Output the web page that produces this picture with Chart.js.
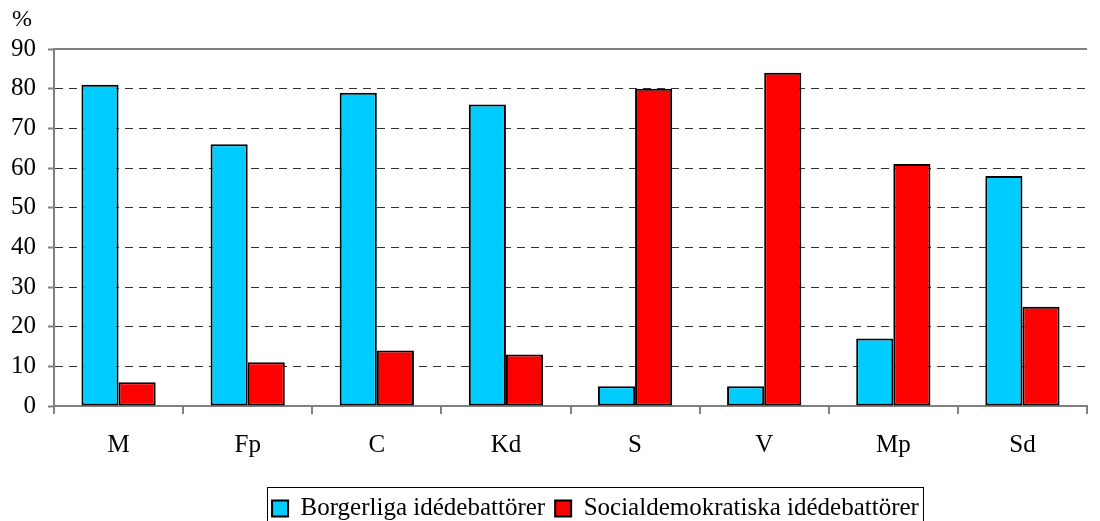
<!DOCTYPE html>
<html>
<head>
<meta charset="utf-8">
<script src="https://cdn.jsdelivr.net/npm/chart.js@4/dist/chart.umd.min.js"></script>
<style>
  html, body { margin: 0; padding: 0; background: #fff; overflow: hidden; }
  #wrap { position: relative; width: 1100px; height: 531px; }
</style>
</head>
<body>
<div id="wrap"><canvas id="myChart"></canvas></div>
<script>
var partier = ['M', 'Fp', 'C', 'Kd', 'S', 'V', 'Mp', 'Sd'];
var borgerliga = [81, 66, 79, 76, 5, 5, 17, 58];
var socialdem = [6, 11, 14, 13, 80, 84, 61, 25];
var yTicks = [0, 10, 20, 30, 40, 50, 60, 70, 80, 90];

var serif = '"Liberation Serif", "Times New Roman", serif';

// flytta legenden lite till höger, som i förlagan
var legendShift = {
    id: 'legendShift',
    afterLayout: function (chart) {
        chart.legend.left += 52;
        chart.legend.right += 52;
    }
};

// ram runt legenden, heldragen topplinje och procenttecken
var extras = {
    id: 'extras',
    afterDraw: function (chart) {
        var ctx = chart.ctx;
        var a = chart.chartArea;
        ctx.save();
        ctx.strokeStyle = '#808080';
        ctx.lineWidth = 2;
        ctx.beginPath();
        ctx.moveTo(a.left, a.top);
        ctx.lineTo(a.right, a.top);
        ctx.stroke();

        ctx.strokeStyle = '#000';
        ctx.lineWidth = 1;
        ctx.strokeRect(267.5, 487.5, 656, 60);

        ctx.fillStyle = '#000';
        ctx.font = '24px ' + serif;
        ctx.textAlign = 'left';
        ctx.textBaseline = 'middle';
        ctx.fillText('%', 12, 20);
        ctx.restore();
    }
};

new Chart(document.getElementById('myChart'), {
    type: 'bar',
    data: {
        labels: partier,
        datasets: [{
            label: 'Borgerliga idédebattörer',
            data: borgerliga,
            backgroundColor: '#00ccff',
            borderColor: '#000',
            borderWidth: 2,
            borderSkipped: false
        }, {
            label: 'Socialdemokratiska idédebattörer',
            data: socialdem,
            backgroundColor: '#ff0000',
            borderColor: '#000',
            borderWidth: 2,
            borderSkipped: false
        }]
    },
    options: {
        responsive: true,
        maintainAspectRatio: false,
        animation: false,
        layout: { padding: { top: 49, right: 13, left: 0, bottom: 0 } },
        datasets: {
            bar: { categoryPercentage: 0.575, barPercentage: 1 }
        },
        scales: {
            x: {
                offset: true,
                grid: {
                    offset: true,
                    drawOnChartArea: false,
                    drawTicks: true,
                    tickLength: 8,
                    color: '#808080',
                    lineWidth: 2
                },
                border: { display: true, color: '#808080', width: 2 },
                ticks: {
                    color: '#000',
                    font: { family: serif, size: 25 },
                    padding: 16
                },
                afterFit: function (axis) { axis.height = 80; }
            },
            y: {
                min: 0,
                max: 90,
                afterBuildTicks: function (axis) {
                    axis.ticks = yTicks.map(function (v) { return { value: v }; });
                },
                grid: {
                    color: function (c) {
                        return (c.tick && (c.tick.value === 0 || c.tick.value === 90)) ? 'rgba(0,0,0,0)' : '#333';
                    },
                    lineWidth: 1,
                    drawTicks: true,
                    tickLength: 6,
                    tickColor: '#808080',
                    tickWidth: 2
                },
                border: { display: true, color: '#808080', width: 2, dash: [8, 6] },
                ticks: {
                    color: '#000',
                    font: { family: serif, size: 25 },
                    padding: 12
                },
                afterFit: function (axis) { axis.width = 54; }
            }
        },
        plugins: {
            legend: {
                position: 'bottom',
                labels: {
                    color: '#000',
                    font: { family: serif, size: 25 },
                    boxWidth: 16,
                    boxHeight: 16,
                    padding: 10,
                    generateLabels: function (chart) {
                        return chart.data.datasets.map(function (ds, i) {
                            return {
                                text: ds.label,
                                fillStyle: ds.backgroundColor,
                                strokeStyle: '#000',
                                lineWidth: 2,
                                datasetIndex: i,
                                fontColor: '#000'
                            };
                        });
                    }
                }
            },
            tooltip: { enabled: false }
        }
    },
    plugins: [legendShift, extras]
});
</script>
</body>
</html>
